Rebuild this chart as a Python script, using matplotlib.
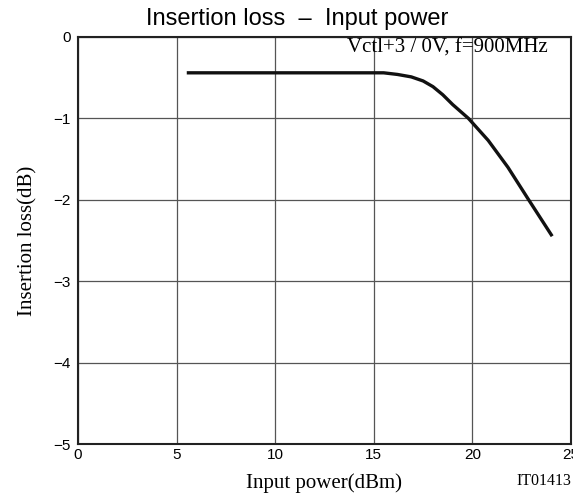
import numpy as np
import matplotlib.pyplot as plt

# curve
pin = [5.6, 15.5, 16.2, 16.9, 17.5, 18.0, 18.5, 19.0, 19.8, 20.8, 21.8, 22.8, 24.0]
loss = [-0.44, -0.44, -0.46, -0.49, -0.54, -0.61, -0.71, -0.83, -1.0, -1.27, -1.6, -1.98, -2.43]

xticks = [0, 5, 10, 15, 20, 25]
yticks = [0, -1, -2, -3, -4, -5]

fig = plt.figure(figsize=(5.73, 4.97), dpi=100)
ax = fig.add_axes([78 / 573, 1 - 444 / 497, (571 - 78) / 573, (444 - 37) / 497])

ax.plot(pin, loss, color='#111111', lw=2.4, solid_joinstyle='round')

ax.set_xlim(0, 25)
ax.set_ylim(-5, 0)
ax.set_xticks(xticks)
ax.set_yticks(yticks)
ax.set_yticklabels(['0', '\u22121', '\u22122', '\u22123', '\u22124', '\u22125'])
ax.tick_params(length=0, labelsize=11, pad=5)
ax.tick_params(axis='x', pad=3)
for lab in ax.get_xticklabels() + ax.get_yticklabels():
    lab.set_fontfamily('Liberation Sans')
ax.grid(True, color='#555555', lw=0.9)
for s in ax.spines.values():
    s.set_linewidth(1.5)
    s.set_color('#222222')

ax.set_xlabel('Input power(dBm)', family='Liberation Serif', fontsize=15, labelpad=8)
ax.set_ylabel('Insertion loss(dB)', family='Liberation Serif', fontsize=15, labelpad=12)
fig.text(297 / 573, 1 - 19 / 497, 'Insertion loss  \u2013  Input power', ha='center', va='center',
         family='Liberation Sans', fontsize=17)

ax.text(548 / 573, 1 - 48 / 497, 'Vctl+3 / 0V, f=900MHz', transform=fig.transFigure,
        ha='right', va='center', family='Liberation Serif', fontsize=15)
fig.text(571 / 573, 1 - 481 / 497, 'IT01413', ha='right', va='center',
         family='Liberation Serif', fontsize=11.5)

fig.savefig('out.png', dpi=100)
